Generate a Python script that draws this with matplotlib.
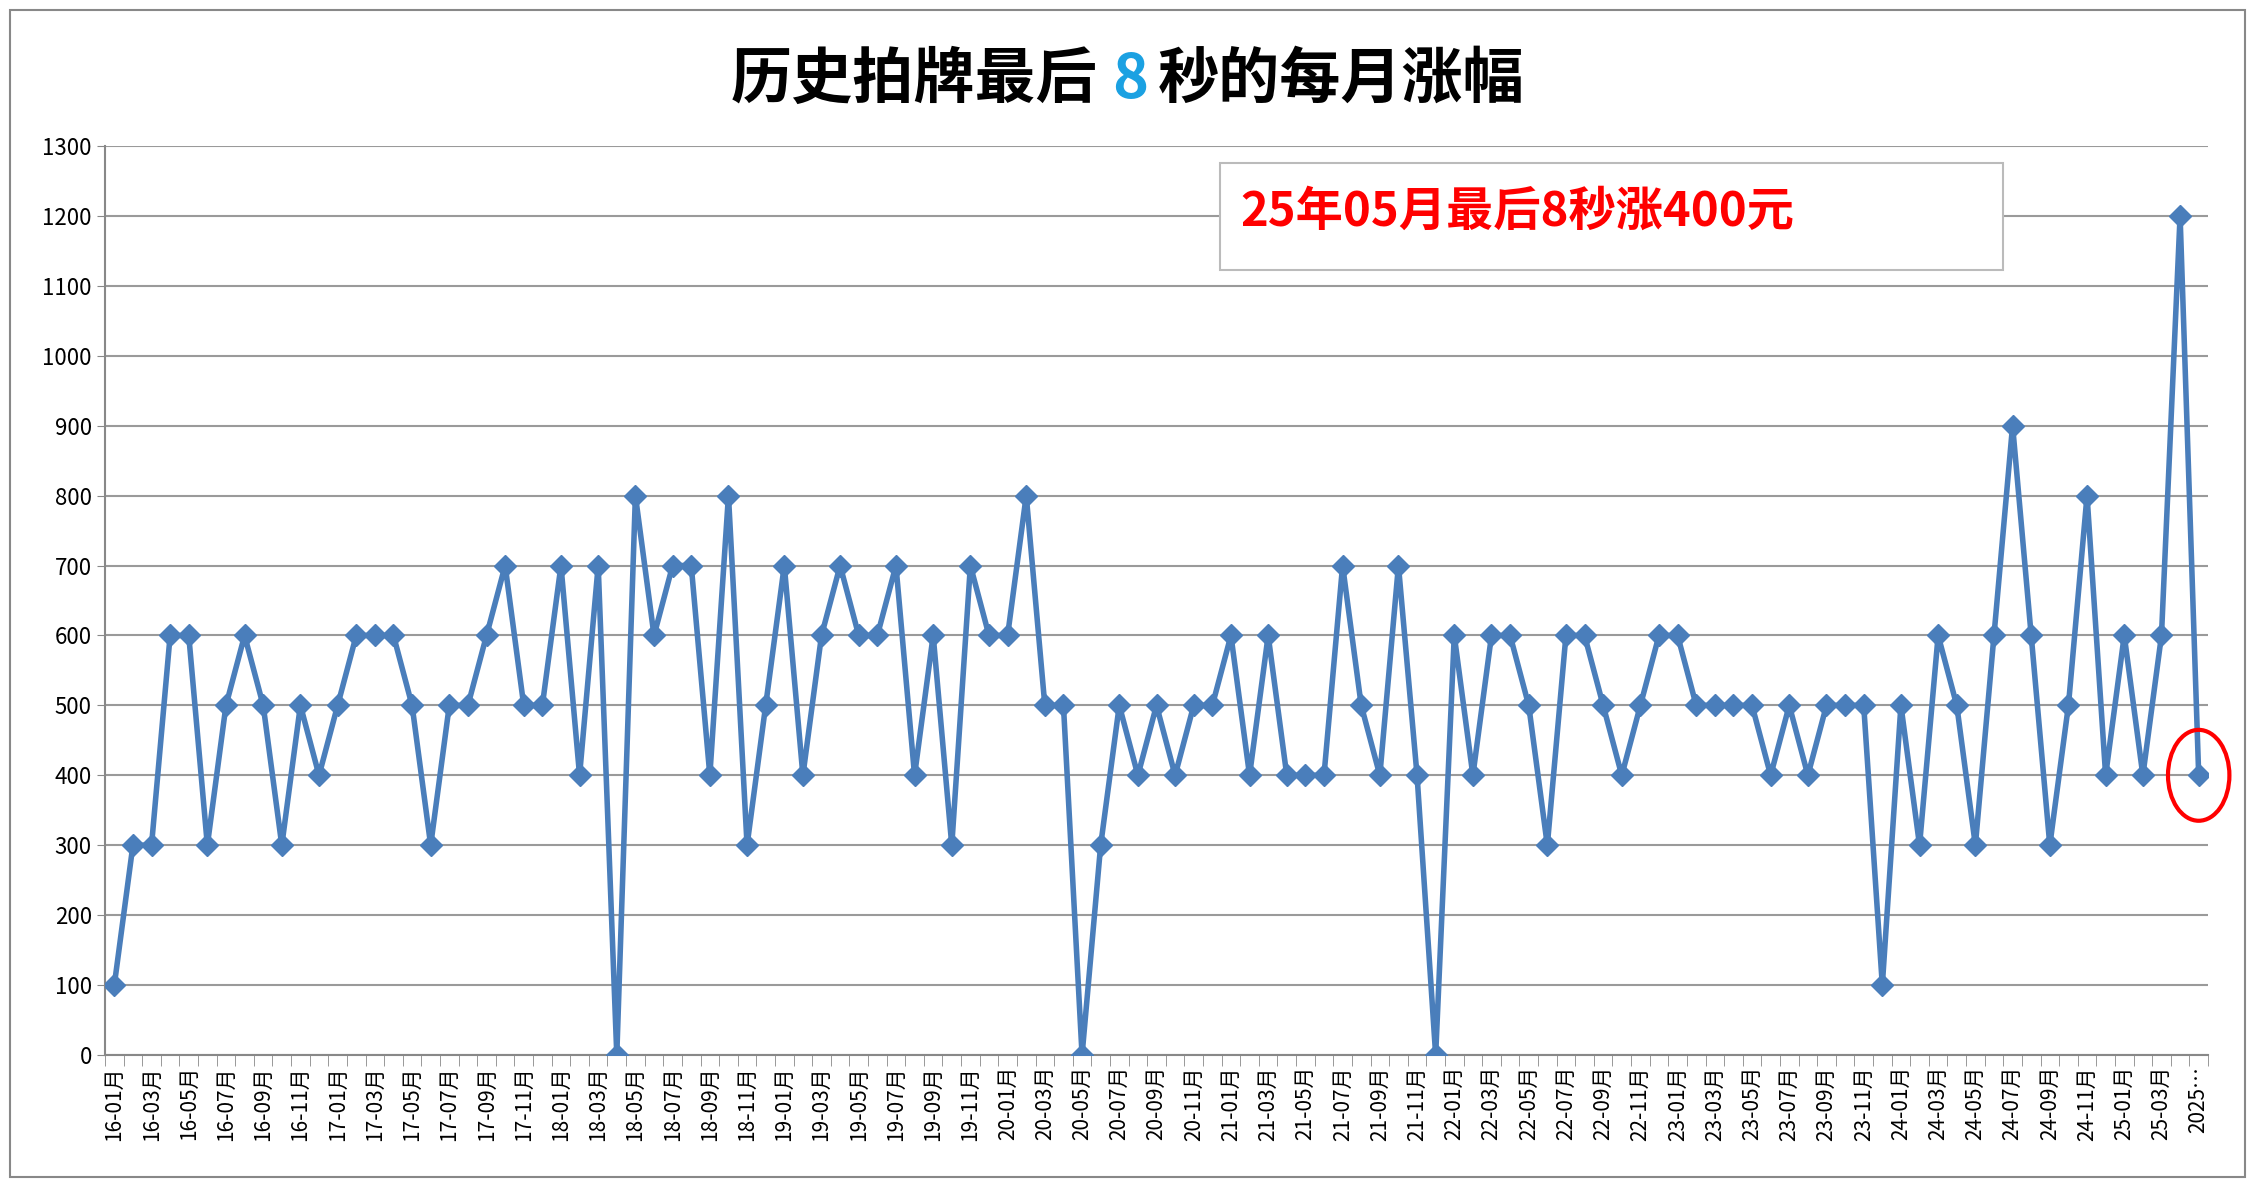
import matplotlib.pyplot as plt
import numpy as np
from matplotlib import font_manager
from matplotlib.patches import Ellipse, Rectangle

cjk = [f.name for f in font_manager.fontManager.ttflist if 'CJK' in f.name]
cjk_name = 'Noto Sans CJK SC' if 'Noto Sans CJK SC' in cjk else (cjk[0] if cjk else 'DejaVu Sans')
plt.rcParams['font.family'] = [cjk_name, 'DejaVu Sans']

# monthly values, 2016-01 .. 2025-05
v2016 = [100, 300, 300, 600, 600, 300, 500, 600, 500, 300, 500, 400]
v2017 = [500, 600, 600, 600, 500, 300, 500, 500, 600, 700, 500, 500]
v2018 = [700, 400, 700, 0, 800, 600, 700, 700, 400, 800, 300, 500]
v2019 = [700, 400, 600, 700, 600, 600, 700, 400, 600, 300, 700, 600]
v2020 = [600, 800, 500, 500, 0, 300, 500, 400, 500, 400, 500, 500]
v2021 = [600, 400, 600, 400, 400, 400, 700, 500, 400, 700, 400, 0]
v2022 = [600, 400, 600, 600, 500, 300, 600, 600, 500, 400, 500, 600]
v2023 = [600, 500, 500, 500, 500, 400, 500, 400, 500, 500, 500, 100]
v2024 = [500, 300, 600, 500, 300, 600, 900, 600, 300, 500, 800, 400]
v2025 = [600, 400, 600, 1200, 400]

values = v2016 + v2017 + v2018 + v2019 + v2020 + v2021 + v2022 + v2023 + v2024 + v2025
labels = [f'{y:02d}-{m:02d}月' for y in range(16, 26) for m in range(1, 13)][:len(values)]
labels[-1] = '2025…'

fig = plt.figure(figsize=(22.55, 11.85), dpi=100)
ax = fig.add_axes([105 / 2255, 1 - 1055 / 1185, (2208 - 105) / 2255, (1055 - 146) / 1185])

x = np.arange(len(values))
ax.plot(x, values, color='#4A7EBB', lw=4, marker='D', ms=11, zorder=3)

ax.set_xlim(-0.5, len(values) - 0.5)
ax.set_ylim(0, 1300)
ax.set_yticks(range(0, 1301, 100))
ax.yaxis.grid(True, color='#9a9a9a', lw=1.5)
ax.tick_params(axis='y', labelsize=16, length=6, color='#888888')

shown = list(range(0, len(values) - 1, 2)) + [len(values) - 1]
ax.set_xticks(shown)
ax.set_xticklabels([labels[i] for i in shown], rotation=90, fontsize=15)
ax.set_xticks(np.arange(-0.5, len(values), 1), minor=True)
ax.tick_params(axis='x', which='major', length=0, pad=8)
ax.tick_params(axis='x', which='minor', length=8, color='#888888')
for s in ['top', 'right']:
    ax.spines[s].set_visible(False)
for s in ['left', 'bottom']:
    ax.spines[s].set_color('#888888')
    ax.spines[s].set_linewidth(1.5)

# highlight last point
ax.add_patch(Ellipse((x[-1], values[-1]), 3.3, 130, fill=False, ec='red', lw=3, clip_on=False, zorder=4))

# title
fig.text(1097 / 2255, 1 - 80 / 1185, '历史拍牌最后', fontsize=44, weight='bold', ha='right', va='center')
fig.text(1130 / 2255, 1 - 80 / 1185, '8', fontsize=44, weight='bold', color='#1BA1E2', ha='center', va='center')
fig.text(1158 / 2255, 1 - 80 / 1185, '秒的每月涨幅', fontsize=44, weight='bold', ha='left', va='center')

# note box
fig.patches.append(Rectangle((1220 / 2255, 1 - 270 / 1185), 783 / 2255, 107 / 1185,
                             transform=fig.transFigure, fill=True, fc='white', ec='#BBBBBB', lw=1.5, zorder=5))
fig.text(1240 / 2255, 1 - 212 / 1185, '25年05月最后8秒涨400元', fontsize=34, weight='bold',
         color='red', ha='left', va='center', zorder=6)

# outer frame
fig.patches.append(Rectangle((10 / 2255, 8 / 1185), 2235 / 2255, 1167 / 1185,
                             transform=fig.transFigure, fill=False, ec='#888888', lw=1.5))

fig.savefig('out.png', dpi=100)
